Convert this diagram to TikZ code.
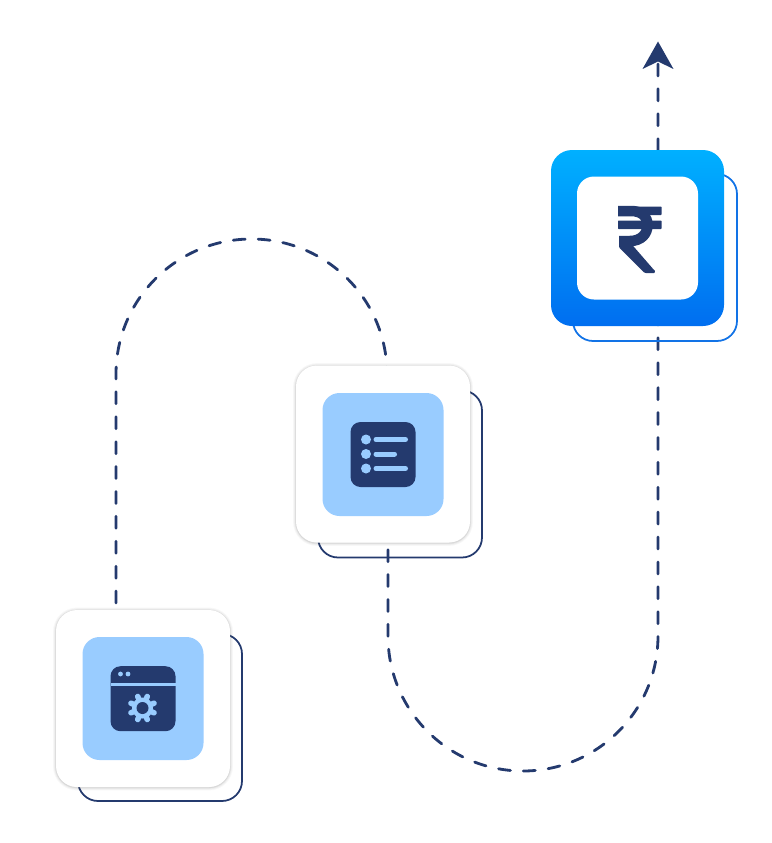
\documentclass[tikz,border=0pt]{standalone}
\usetikzlibrary{arrows.meta,calc}
\definecolor{navy}{HTML}{243A6E}
\definecolor{sky}{HTML}{99CCFF}
\definecolor{framering}{HTML}{1273E6}
\definecolor{cardtop}{HTML}{00B0FF}
\definecolor{cardbottom}{HTML}{006EF0}
\def \Px {0.03cm} %One pixel of the reference
\tikzset{
	box/.style 2 args={inner sep=0pt, outer sep=0pt, minimum width=#1*\Px, minimum height=#2*\Px},
	frame/.style={box={164}{167}, rounded corners=20*\Px, draw=navy, line width=1.5pt},
	card/.style={box={174}{177}, rounded corners=21*\Px, fill=white},
	glow/.style={box={174}{177}, rounded corners=21*\Px, draw=black!70, opacity=#1},
	tile/.style={box={121}{123}, rounded corners=17*\Px, fill=sky},
	icon/.style={box={65}{65}, rounded corners=10*\Px, fill=navy},
	route/.style={draw=navy, line width=2.4pt, line cap=round, dash pattern=on 10.2pt off 11.05pt},
	bar/.style={draw=sky, line width=5*\Px, line cap=round}
}
\begin{document}
\begin{tikzpicture}[x=\Px, y=-\Px]
	\useasboundingbox (0,0) rectangle (771,843);
	%Locations%
	%===========================================================
	\coordinate (start) at (116,603); %Free end under the first card
	\coordinate (leftup) at (116,374); %Start of top arc
	\coordinate (middle) at (387,358); %Top arc meets second card
	\coordinate (below) at (388,546); %Route comes out of second card
	\coordinate (rightdown) at (388,636); %Start of bottom arc
	\coordinate (rightup) at (658,636); %End of bottom arc
	\coordinate (tip) at (658,41.5); %Arrow tip

	%Dashed route
	\draw[route] (start) -- (leftup) arc[start angle=180, end angle=360, x radius=135.5, y radius=135] -- (middle);
	\draw[route] (658,64) -- (rightup) arc[start angle=0, end angle=180, x radius=135, y radius=135] -- (below);
	\fill[navy] (tip) -- (673.5,69) -- (658,61.5) -- (642.5,69) -- cycle; %Arrow head

	%First card, settings window
	\node[frame] (frameA) at (160,717.5) {};
	\foreach \w/\o in {5/.04, 3.5/.05, 2/.07, 1/.08} {
		\node[glow=\o, line width=\w pt] at (143,699) {};
	}
	\node[card] (cardA) at (143,698.5) {};
	\node[tile] (tileA) at (143,698.5) {};
	\node[icon] (iconA) at (143,698.7) {};
	\draw[sky, line width=3.2*\Px] (iconA.west |- 0,684.5) -- (iconA.east |- 0,684.5); %Title bar line
	\fill[sky] (120.5,674) circle (2.4) (128,674) circle (2.4);
	\foreach \a in {0,45,...,315} {
		\draw[sky, line width=5.5*\Px, line cap=round] (142.5,708) ++(\a+22.5:8) -- ++(\a+22.5:4.5); %Gear teeth
	}
	\fill[sky] (142.5,708) circle (10.5);
	\fill[navy] (142.5,708) circle (6);

	%Second card, list
	\node[frame] (frameB) at (400,474) {};
	\foreach \w/\o in {5/.04, 3.5/.05, 2/.07, 1/.08} {
		\node[glow=\o, line width=\w pt] at (383,454.5) {};
	}
	\node[card] (cardB) at (383,454) {};
	\node[tile] (tileB) at (383,454.5) {};
	\node[icon] (iconB) at (383,454.5) {};
	\foreach \y/\e in {439.5/405.5, 454/394.5, 468.5/405.5} {
		\fill[sky] (366,\y) circle (5);
		\draw[bar] (376,\y) -- (\e,\y);
	}

	%Third card, rupee
	\node[frame, draw=framering] (frameC) at (655,257.5) {};
	\node[box={173}{176}, rounded corners=21*\Px, top color=cardtop, bottom color=cardbottom] (cardC) at (637.5,238) {};
	\node[box={121}{123}, rounded corners=17*\Px, fill=white] (tileC) at (637.5,238) {};
	\fill[navy, rounded corners=0.6pt] (618,206.5) rectangle (661.5,215);
	\fill[navy, rounded corners=0.6pt] (618,220.5) rectangle (661.5,229);
	\draw[navy, line width=10.5*\Px] (618,211) -- (631,211) .. controls (642,211) and (647.5,217) .. (647.5,225) .. controls (647.5,234) and (641,241) .. (630,241) -- (619,241);
	\fill[navy, rounded corners=1pt] (619,236.5) -- (619,247.5) -- (643,271.5) .. controls (644,272.5) and (645,273) .. (647,273) -- (653,273) .. controls (655,273) and (655,271) .. (654,270) -- (631,243.5) -- cycle;
\end{tikzpicture}
\end{document}
